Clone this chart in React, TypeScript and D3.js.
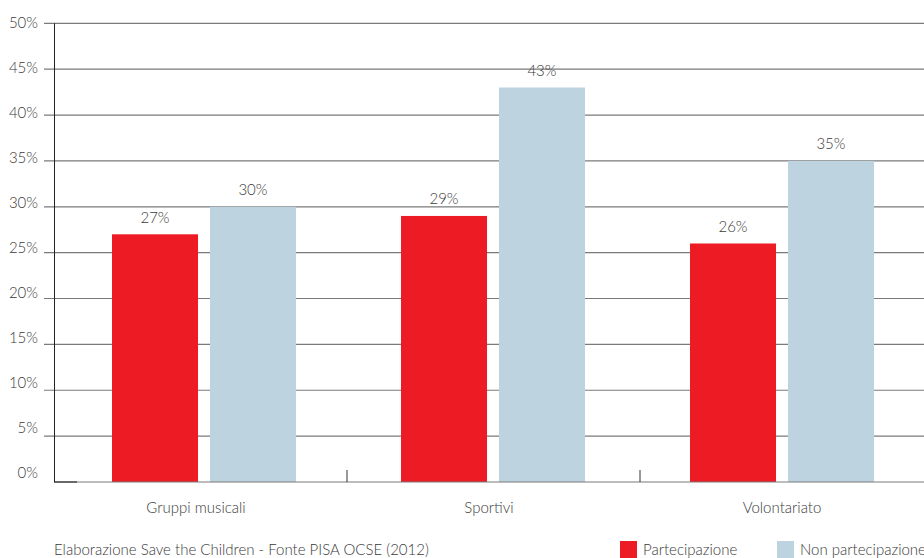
import React from "react";
import * as d3 from "d3";

const categories = ["Gruppi musicali", "Sportivi", "Volontariato"];
const seriesNames = ["Partecipazione", "Non partecipazione"];
const partecipazione = [27, 29, 26];
const nonPartecipazione = [30, 43, 35];
const yTicks = [0, 5, 10, 15, 20, 25, 30, 35, 40, 45, 50];
const sourceNote = "Elaborazione Save the Children - Fonte PISA OCSE (2012)";

const colors = ["#ED1C24", "#BDD3DF"];
const FONT = "Lato, 'Open Sans', sans-serif";
const TXT = "#3a3a3a";

export default function App() {
  const W = 924, H = 558;
  const y = d3.scaleLinear().domain([0, 50]).range([482, 23.3]);
  const yLab = d3.scaleLinear().domain([0, 50]).range([472.5, 22.5]);
  // axis bands (ticks / labels)
  const x0 = d3.scaleBand<string>().domain(categories).range([54, 933]).padding(0);
  // bar groups
  const xb = d3.scaleBand<string>().domain(categories).range([59.5, 926.5]).padding(0);
  const x1 = d3.scaleBand<string>().domain(seriesNames).range([52.5, 236.5]).paddingInner(0.122).paddingOuter(0);
  const seriesValues = [partecipazione, nonPartecipazione];

  return (
    <svg width={W} height={H} style={{ position: "absolute", left: 0, top: 0 }} fontFamily={FONT}>
      {yTicks.map((t) => (
        <g key={t}>
          {t > 0 && (
            <line x1={44} x2={W} y1={y(t)} y2={y(t)} stroke="#7a7a7a" strokeWidth={1.2} />
          )}
          <text x={38} y={yLab(t)} dy="0.35em" textAnchor="end" fontSize={15} fontWeight={300} fill={TXT}>
            {t}%
          </text>
        </g>
      ))}
      {categories.map((c, ci) =>
        seriesNames.map((s, si) => {
          const v = seriesValues[si][ci];
          const bx = (xb(c) as number) + (x1(s) as number);
          const bw = x1.bandwidth();
          return (
            <g key={c + s}>
              <rect x={bx} y={y(v)} width={bw} height={y(0) - y(v)} fill={colors[si]} />
              <text x={bx + bw / 2} y={y(v) - 17} dy="0.35em" textAnchor="middle" fontSize={15} fontWeight={300} fill={TXT}>
                {v}%
              </text>
            </g>
          );
        })
      )}
      {/* x axis */}
      <line x1={54} x2={W} y1={y(0)} y2={y(0)} stroke="#7a7a7a" strokeWidth={1.2} />
      <line x1={54} x2={77} y1={y(0)} y2={y(0)} stroke="#333" strokeWidth={1.2} />
      {categories.slice(1).map((c) => (
        <line key={c} x1={x0(c) as number} x2={x0(c) as number} y1={y(0)} y2={y(0) - 12} stroke="#333" strokeWidth={1} />
      ))}
      <line x1={54.5} x2={54.5} y1={y(50)} y2={y(0)} stroke="#222" strokeWidth={1} />
      {categories.map((c) => (
        <text key={c} x={(x0(c) as number) + x0.bandwidth() / 2 - 4.5} y={508} dy="0.35em" textAnchor="middle" fontSize={15} fontWeight={300} fill={TXT}>
          {c}
        </text>
      ))}
      <text x={54} y={550} dy="0.35em" fontSize={15} fontWeight={300} fill={TXT}>{sourceNote}</text>
      {seriesNames.map((s, i) => {
        const lx = [620, 777][i];
        return (
          <g key={s}>
            <rect x={lx} y={541} width={17} height={17} fill={colors[i]} />
            <text x={lx + 23} y={550} dy="0.35em" fontSize={15} fontWeight={300} fill={TXT}>{s}</text>
          </g>
        );
      })}
    </svg>
  );
}
